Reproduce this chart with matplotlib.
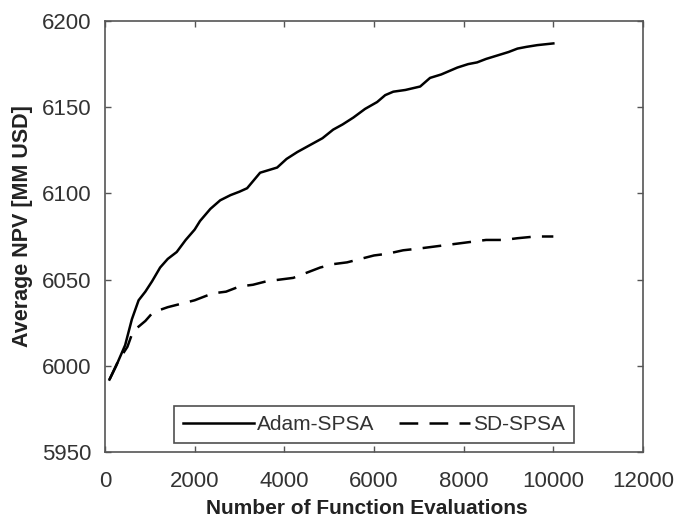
import matplotlib
matplotlib.use("Agg")
import matplotlib.pyplot as plt

plt.rcParams['font.family'] = ['Liberation Sans', 'DejaVu Sans']

# Average NPV vs. number of function evaluations
adam_evals = [100, 250, 450, 600, 750, 900, 1050, 1230, 1400, 1600, 1800, 2000,
              2120, 2350, 2570, 2800, 3000, 3170, 3460, 3840, 4050, 4290, 4640,
              4850, 5090, 5300, 5540, 5800, 6070, 6250, 6430, 6700, 7030, 7250,
              7500, 7860, 8100, 8300, 8500, 8750, 9000, 9200, 9400, 9640, 10000]
adam_npv = [5992, 6000, 6012, 6027, 6038, 6043, 6049, 6057, 6062, 6066, 6073, 6079,
            6084, 6091, 6096, 6099, 6101, 6103, 6112, 6115, 6120, 6124, 6129,
            6132, 6137, 6140, 6144, 6149, 6153, 6157, 6159, 6160, 6162, 6167,
            6169, 6173, 6175, 6176, 6178, 6180, 6182, 6184, 6185, 6186, 6187]

sd_evals = [100, 300, 500, 625, 900, 1070, 1400, 1700, 2000, 2400, 2700, 3000,
            3300, 3600, 4200, 4500, 4800, 5100, 5400, 5700, 6000, 6300, 6650,
            7000, 7300, 7600, 7900, 8200, 8500, 8900, 9200, 9600, 10000]
sd_npv = [5992, 6003, 6011, 6020, 6026, 6031, 6034, 6036, 6038, 6042, 6043, 6046,
          6047, 6049, 6051, 6054, 6057, 6059, 6060, 6062, 6064, 6065, 6067,
          6068, 6069, 6070, 6071, 6072, 6073, 6073, 6074, 6075, 6075]

x_ticks = [0, 2000, 4000, 6000, 8000, 10000, 12000]
y_ticks = [5950, 6000, 6050, 6100, 6150, 6200]

fig = plt.figure(figsize=(6.76, 5.2), dpi=100)
ax = fig.add_axes([0.1553, 0.1308, 0.7959, 0.8288])

ax.plot(adam_evals, adam_npv, color='black', lw=1.8, label='Adam-SPSA')
ax.plot(sd_evals, sd_npv, color='black', lw=1.8, dashes=(7.5, 4.5), label='SD-SPSA')

ax.set_xlim(0, 12000)
ax.set_ylim(5950, 6200)
ax.set_xticks(x_ticks)
ax.set_yticks(y_ticks)

spine_col = '#555555'
for s in ax.spines.values():
    s.set_color(spine_col)
    s.set_linewidth(1.2)
ax.tick_params(direction='in', top=True, right=True, length=4, width=1,
               color=spine_col, labelsize=16, labelcolor='#333333')
ax.tick_params(axis='y', pad=10)
ax.tick_params(axis='x', pad=14)

ax.set_xlabel('Number of Function Evaluations', fontsize=15, fontweight='bold',
              color='#222222')
ax.set_ylabel('Average NPV [MM USD]', fontsize=15.5, fontweight='bold',
              color='#222222')
ax.xaxis.set_label_coords(0.487, -0.108)
ax.yaxis.set_label_coords(-0.134, 0.524)

leg = ax.legend(loc='lower center', bbox_to_anchor=(0.5, 0.02), ncol=2,
                fontsize=15, frameon=True, fancybox=False, handlelength=3.4,
                handletextpad=0.15, columnspacing=1.2, borderpad=0.45,
                borderaxespad=0)
leg.get_frame().set_edgecolor('#222222')
leg.get_frame().set_linewidth(1.2)
for t in leg.get_texts():
    t.set_color('#333333')

fig.savefig('out.png', dpi=100)
